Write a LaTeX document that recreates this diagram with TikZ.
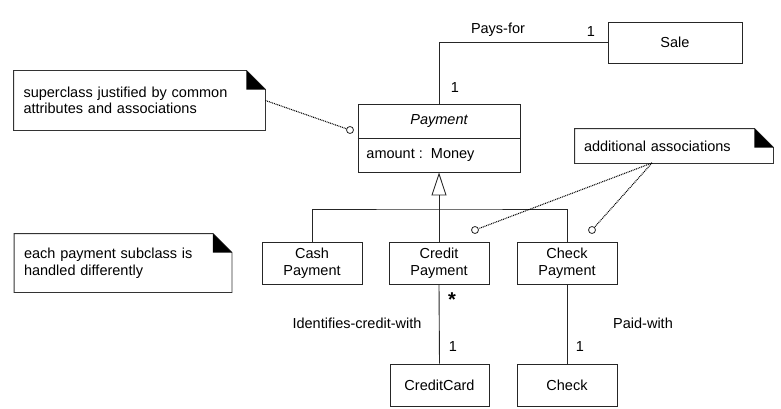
\documentclass[tikz,border=0pt]{standalone}
\usepackage{fontspec}
\setmainfont{Liberation Sans}
\usetikzlibrary{arrows.meta}
\begin{document}
\begin{tikzpicture}[x=1pt,y=-1pt,
  line width=0.9pt,
  every node/.style={font=\fontsize{14.5}{16.5}\selectfont, text=black},
  cls/.style={draw=black!85, fill=white, inner sep=0pt, align=center},
  note/.style={inner sep=0pt, align=left},
  assoc/.style={draw=black!85},
  anchorline/.style={draw=black, line width=1.1pt, dash pattern=on 0.9pt off 0.9pt},
  lollipop/.style={circle, draw=black!85, fill=white, inner sep=0pt, minimum size=7pt, line width=0.8pt},
  lbl/.style={inner sep=0pt},
]
\useasboundingbox (0,0) rectangle (781,409);

% classes
\node[cls, minimum width=134pt, minimum height=41pt] (sale) at (675,42.5) {Sale};
\node[cls, minimum width=162pt, minimum height=68pt] (payment) at (439,138) {};
\draw[black!85] (payment.west) -- (payment.east);
\node[lbl, font=\fontsize{14.5}{16.5}\selectfont\itshape] (ptitle) at (439,121) {Payment};
\node[lbl, anchor=west] (pattr) at (366,155) {amount :\ \ Money};

\node[cls, minimum width=100pt, minimum height=42pt] (cash)   at (312,263) {Cash\\Payment};
\node[cls, minimum width=100pt, minimum height=42pt] (credit) at (439,263) {Credit\\Payment};
\node[cls, minimum width=100pt, minimum height=42pt] (check)  at (567,263) {Check\\Payment};
\node[cls, minimum width=99pt, minimum height=42pt] (card)    at (439.5,385) {CreditCard};
\node[cls, minimum width=100pt, minimum height=42pt] (chk)    at (567,385) {Check};

% notes: outline with a folded top-right corner
\node[note, minimum width=251pt, minimum height=59pt] (note1) at (139.5,100.5) {};
\node[note, minimum width=198pt, minimum height=34pt] (note2) at (674,146) {};
\node[note, minimum width=217pt, minimum height=58pt] (note3) at (123,263) {};
\foreach \n in {note1,note2,note3}{
  \draw[black!80, fill=white] (\n.south west) -- (\n.north west) -- ([xshift=-19pt]\n.north east)
    -- ([yshift=-19pt]\n.north east) -- (\n.south east) -- cycle;
  \fill[black] ([xshift=-19pt]\n.north east) -- ([xshift=-19pt,yshift=-19pt]\n.north east)
    -- ([yshift=-19pt]\n.north east) -- cycle;
}
\node[note, text width=232pt] (note1t) at (note1) {superclass justified by common\\attributes and associations};
\node[note, text width=180pt] (note2t) at (note2) {additional associations};
\node[note, text width=198pt] (note3t) at (note3) {each payment subclass is\\handled differently};

% association Sale -- Payment
\draw[assoc] (sale.west) -| (payment.north);
\node[lbl] (paysfor) at (498,30) {Pays-for};
\node[lbl] (m1) at (591,32) {1};
\node[lbl] (m2) at (455,88) {1};

% generalization
\coordinate (bar) at (439,209);
\draw[assoc] (cash.north) |- (bar) -| (check.north);
\draw[assoc, -{Triangle[open, length=23pt, width=15pt, line width=0.9pt]}] (credit.north) -- (payment.south);

% associations to CreditCard and Check
\draw[assoc] (credit.south) -- (card.north);
\draw[assoc] (check.south) -- (chk.north);
\node[lbl, font=\fontsize{20}{20}\selectfont\bfseries] (star) at (452,300) {*};
\node[lbl] (idlbl) at (357,323) {Identifies-credit-with};
\node[lbl] (m3) at (453,347) {1};
\node[lbl] (paidlbl) at (643,323) {Paid-with};
\node[lbl] (m4) at (580,347) {1};

% note anchors
\node[lollipop] (o1) at (350,130) {};
\node[lollipop] (o2) at (475,230) {};
\node[lollipop] (o3) at (592,230) {};
\coordinate (n2a) at (652,163);
\draw[anchorline] (note1.east) -- (o1);
\draw[anchorline] (n2a) -- (o2);
\draw[anchorline] (n2a) -- (o3);
\end{tikzpicture}
\end{document}
